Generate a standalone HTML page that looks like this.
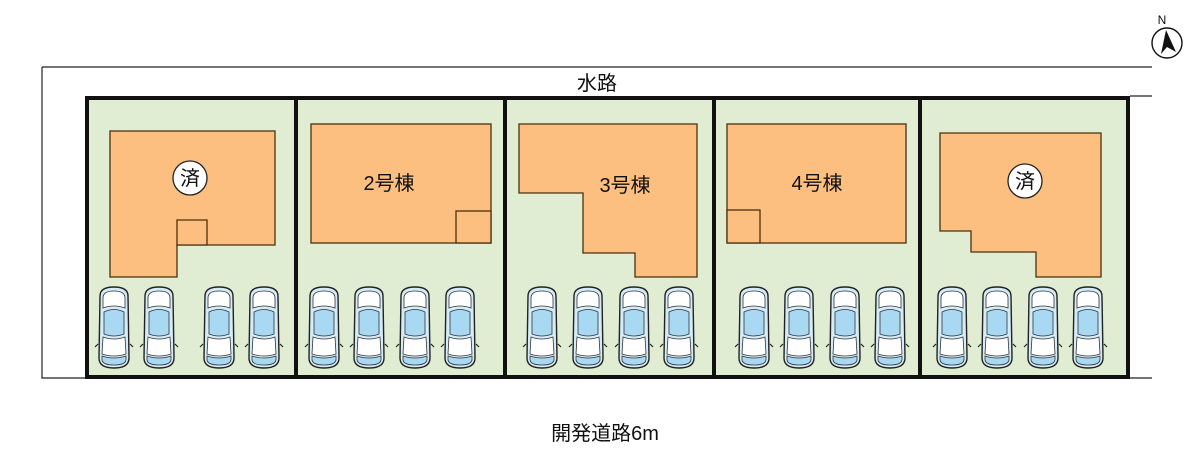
<!DOCTYPE html>
<html><head><meta charset="utf-8"><style>
body{margin:0;background:#fff;width:1200px;height:472px;overflow:hidden}
svg{display:block}
text{font-family:"Liberation Sans","Noto Sans CJK JP",sans-serif;fill:#111}
</style></head><body>
<svg width="1200" height="472" viewBox="0 0 1200 472">
<defs>
<g id="car">
<path d="M3,10 Q3,1 17,1 Q31,1 31,10 L32,72 Q32,82 17,82 Q2,82 2,72 Z" fill="#d4ecf7" stroke="#222" stroke-width="1.4"/>
<path d="M6,12 Q6,5 17,5 Q28,5 28,12 L28,22 Q17,18 6,22 Z" fill="#fff" stroke="#333" stroke-width="0.8"/>
<path d="M7,26 Q17,21 27,26 L27,48 Q17,52 7,48 Z" fill="#a9d8f2" stroke="#333" stroke-width="0.8"/>
<path d="M6,51 Q17,55 28,51 L29,68 Q17,72 5,68 Z" fill="#fff" stroke="#333" stroke-width="0.8"/>
<path d="M5,70 Q17,74 29,70 L29,74 Q28,79 17,79 Q6,79 5,74 Z" fill="#a9d8f2" stroke="#333" stroke-width="0.8"/>
<path d="M1,58 L-2,61 M33,58 L36,61" stroke="#222" stroke-width="1.2"/>
</g>
</defs>
<path d="M42,67 H1152" stroke="#222" stroke-width="1.2"/>
<path d="M42,67 V378 H1152" stroke="#222" stroke-width="1.2" fill="none"/>
<path d="M1130,96 H1152" stroke="#222" stroke-width="1.2"/>
<rect x="87" y="98" width="1041" height="279" fill="#e1edd2" stroke="#111" stroke-width="4"/>
<g stroke="#111" stroke-width="4">
<line x1="296" y1="98" x2="296" y2="377"/><line x1="505" y1="98" x2="505" y2="377"/>
<line x1="714" y1="98" x2="714" y2="377"/><line x1="920" y1="98" x2="920" y2="377"/>
</g>
<g fill="#fdbf80" stroke="#4a3010" stroke-width="1.3">
<path d="M110,131 H275 V245 H177 V277 H110 Z"/>
<path d="M177,220 H207 V245 H177 Z"/>
<rect x="311" y="124" width="180" height="119"/>
<rect x="456" y="211" width="35" height="32"/>
<path d="M519,124 H697 V277 H635 V253 H583 V193 H519 Z"/>
<rect x="727" y="124" width="179" height="119"/>
<rect x="727" y="210" width="33" height="33"/>
<path d="M940,133 H1101 V277 H1036 V252 H971 V231 H940 Z"/>
</g>
<g fill="#fff" stroke="#222" stroke-width="1.3">
<circle cx="190" cy="178" r="17"/><circle cx="1025" cy="181" r="17"/>
</g>
<text x="190" y="185" font-size="20" text-anchor="middle">済</text>
<text x="1025" y="188" font-size="20" text-anchor="middle">済</text>
<text x="389" y="190" font-size="20" text-anchor="middle">2号棟</text>
<text x="625" y="192" font-size="20" text-anchor="middle">3号棟</text>
<text x="817" y="190" font-size="20" text-anchor="middle">4号棟</text>
<text x="597" y="90" font-size="20" text-anchor="middle">水路</text>
<text x="605" y="440" font-size="20" text-anchor="middle">開発道路6m</text>
<g>
<use href="#car" x="97" y="286"/><use href="#car" x="142" y="286"/><use href="#car" x="202" y="286"/><use href="#car" x="247" y="286"/>
<use href="#car" x="307" y="286"/><use href="#car" x="352" y="286"/><use href="#car" x="398" y="286"/><use href="#car" x="443" y="286"/>
<use href="#car" x="525" y="286"/><use href="#car" x="571" y="286"/><use href="#car" x="617" y="286"/><use href="#car" x="662" y="286"/>
<use href="#car" x="737" y="286"/><use href="#car" x="782" y="286"/><use href="#car" x="828" y="286"/><use href="#car" x="873" y="286"/>
<use href="#car" x="935" y="286"/><use href="#car" x="980" y="286"/><use href="#car" x="1026" y="286"/><use href="#car" x="1071" y="286"/>
</g>
<circle cx="1167" cy="43" r="15" fill="#fff" stroke="#111" stroke-width="1.4"/>
<path d="M1166,30 L1176,52 L1167,47 L1161,54 Z" fill="#111"/>
<text x="1162" y="24" font-size="12" text-anchor="middle">N</text>
</svg>
</body></html>
